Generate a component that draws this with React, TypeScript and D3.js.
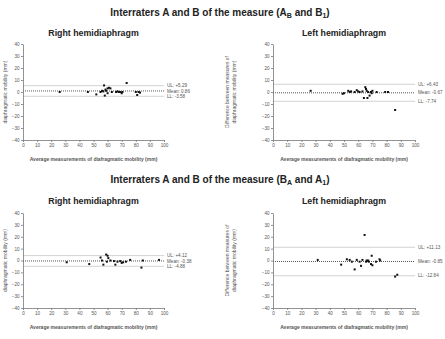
import React, { useEffect, useRef } from "react";
import * as d3 from "d3";

// tick values shared by all four panels
const xTicks = [0, 10, 20, 30, 40, 50, 60, 70, 80, 90, 100];
const yTicks = [40, 30, 20, 10, 0, -10, -20, -30, -40];

// Right hemidiaphragm, A_B and B_1
const rightAB_avg = [26, 46, 52, 55, 56, 57, 57.5, 58, 58.5, 59, 60, 61, 62, 60, 63, 66, 67, 68, 69, 70, 70.5, 73.5, 80, 81, 82, 83];
const rightAB_diff = [0, 0, -2, 0, 1, 0.5, 5.5, -3, 2, 1, 3, 3.5, 3, -1, 0, 0, 0.5, 0, 0, -1, 0, 7.5, 0, -2.5, 0, -0.5];
const rightAB_limits = [5.29, 0.86, -3.58];
const rightAB_labels = ["UL: +5.29", "Mean: 0.86", "LL: -3.58"];

// Left hemidiaphragm, A_B and B_1
const leftAB_avg = [26.5, 49, 50, 53, 54, 55, 57.5, 59, 60, 61, 63, 64, 65, 65.5, 66, 66.5, 67, 68, 69, 69.5, 70, 73, 79, 81, 86];
const leftAB_diff = [1, -1.5, -1, 1, 0, 0.5, 0, 1.5, 0.5, 0, 0.5, -5, 4, 2.5, 1, -5, 0, -3, 0, -1, 1, 0, 0, 0, -15];
const leftAB_limits = [6.43, -0.67, -7.74];
const leftAB_labels = ["UL: +6.43", "Mean: -0.67", "LL: -7.74"];

// Right hemidiaphragm, B_A and A_1
const rightBA_avg = [31, 47, 55, 56, 57, 59, 60, 60.5, 59.5, 62, 64.5, 65.5, 67, 69, 70, 71, 73, 76, 85, 84, 96.5];
const rightBA_diff = [-1.5, -3, 2.5, 0, -3.5, 5, 4, 2, -1, 0, -0.5, -3.5, -1, -0.5, -2, -1.5, -1, 0.5, 0, -6, 0.5];
const rightBA_limits = [4.12, -0.38, -4.88];
const rightBA_labels = ["UL: +4.12", "Mean: -0.38", "LL: -4.88"];

// Left hemidiaphragm, B_A and A_1
const leftBA_avg = [31.5, 48, 52, 54, 55.5, 57.5, 59, 61, 62, 63, 64.5, 65.5, 66, 67, 67.5, 69.5, 69, 70, 72.5, 75, 75.5, 86, 87.5];
const leftBA_diff = [0.5, -3.5, 1, 0.5, -1, -7.5, 0.5, -1, -4.5, 0.5, 21.5, -1, 0, 0, -1, 4, -3, -4, -1, 1, 0, -13.5, -12];
const leftBA_limits = [11.13, -0.85, -12.84];
const leftBA_labels = ["UL: +11.13", "Mean: -0.85", "LL: -12.84"];

const axisColor = "#777";
const font = "Liberation Sans, Arial, sans-serif";

interface PanelProps {
  avg: number[];
  diff: number[];
  limits: number[];
  labels: string[];
  left: number;
  right: number;
  top: number;
  bottom: number;
  title: string;
  titleY: number;
  twoLineY: boolean;
}

const Panel = ({ avg, diff, limits, labels, left, right, top, bottom, title, titleY, twoLineY }: PanelProps) => {
  const xRef = useRef<SVGGElement>(null);
  const yRef = useRef<SVGGElement>(null);

  const x = d3.scaleLinear().domain([0, 100]).range([left, right]);
  const y = d3.scaleLinear().domain([-40, 40]).range([bottom, top]);

  useEffect(() => {
    const styleAxis = (g) => {
      g.selectAll("path").attr("stroke", axisColor).attr("stroke-width", 0.8);
      g.selectAll("line").attr("stroke", axisColor).attr("stroke-width", 0.8);
      g.selectAll("text").attr("fill", "#555").attr("font-size", 4.6).attr("font-family", font);
    };
    d3.select(xRef.current)
      .call(d3.axisBottom(x).tickValues(xTicks).tickSize(2).tickPadding(1.5).tickSizeOuter(0))
      .call(styleAxis);
    d3.select(yRef.current)
      .call(d3.axisLeft(y).tickValues(yTicks).tickSize(2).tickPadding(1.5).tickSizeOuter(0))
      .call(styleAxis);
  }, []);

  const midY = (top + bottom) / 2;
  const midX = (left + right) / 2;

  return (
    <g>
      <text x={midX} y={titleY} textAnchor="middle" fontFamily={font} fontWeight="bold" fontSize={8.8} fill="#222">
        {title}
      </text>
      {/* limits of agreement */}
      {limits.map((v, i) => (
        <g key={i}>
          <line
            x1={x(0)}
            x2={x(100)}
            y1={y(v)}
            y2={y(v)}
            stroke={i === 1 ? "#444" : "#c8c8c8"}
            strokeWidth={i === 1 ? 0.9 : 0.8}
            strokeDasharray={i === 1 ? "1,1" : undefined}
          />
          <text x={x(100) + 3} y={y(v) + 1.6} fontFamily={font} fontSize={4.6} fill="#555">
            {labels[i]}
          </text>
        </g>
      ))}
      {avg.map((a, i) => (
        <rect key={i} x={x(a) - 1} y={y(diff[i]) - 1} width={2} height={2} fill="#111" />
      ))}
      <g ref={xRef} transform={`translate(0, ${bottom})`} />
      <g ref={yRef} transform={`translate(${left}, 0)`} />
      <text
        x={midX}
        y={bottom + 21}
        textAnchor="middle"
        fontFamily={font}
        fontWeight="bold"
        fontSize={5}
        fill="#555"
      >
        Average measurements of diafragmatic mobility (mm)
      </text>
      {twoLineY ? (
        <text
          transform={`translate(${left - 37}, ${midY}) rotate(-90)`}
          textAnchor="middle"
          fontFamily={font}
          fontSize={5}
          fill="#555"
        >
          <tspan x={0} dy={-7.5}>Difference between measures of</tspan>
          <tspan x={0} dy={7.5}>diaphragmatic mobility (mm)</tspan>
        </text>
      ) : (
        <text
          transform={`translate(${left - 16}, ${midY}) rotate(-90)`}
          textAnchor="middle"
          fontFamily={font}
          fontSize={5}
          fill="#555"
        >
          diaphragmatic mobility (mm)
        </text>
      )}
    </g>
  );
};

const Title = ({ y, a, aSub, b, bSub }) => (
  <text x={220} y={y} textAnchor="middle" fontFamily={font} fontWeight="bold" fontSize={10} fill="#222">
    {"Interraters A and B of the measure ("}
    {a}
    <tspan fontSize={7} dy={2}>{aSub}</tspan>
    <tspan dy={-2}>{` and ${b}`}</tspan>
    <tspan fontSize={7} dy={2}>{bSub}</tspan>
    <tspan dy={-2}>)</tspan>
  </text>
);

const App = () => {
  return (
    <svg width={445} height={339} style={{ position: "absolute", left: 0, top: 0, background: "#fff" }}>
      <Title y={16} a="A" aSub="B" b="B" bSub="1" />
      <Panel
        avg={rightAB_avg}
        diff={rightAB_diff}
        limits={rightAB_limits}
        labels={rightAB_labels}
        left={23}
        right={164}
        top={44}
        bottom={140}
        title="Right hemidiaphragm"
        titleY={36}
        twoLineY={false}
      />
      <Panel
        avg={leftAB_avg}
        diff={leftAB_diff}
        limits={leftAB_limits}
        labels={leftAB_labels}
        left={273}
        right={415}
        top={44}
        bottom={140}
        title="Left hemidiaphragm"
        titleY={36}
        twoLineY={true}
      />
      <Title y={183} a="B" aSub="A" b="A" bSub="1" />
      <Panel
        avg={rightBA_avg}
        diff={rightBA_diff}
        limits={rightBA_limits}
        labels={rightBA_labels}
        left={23}
        right={164}
        top={213}
        bottom={308}
        title="Right hemidiaphragm"
        titleY={204}
        twoLineY={false}
      />
      <Panel
        avg={leftBA_avg}
        diff={leftBA_diff}
        limits={leftBA_limits}
        labels={leftBA_labels}
        left={273}
        right={415}
        top={213}
        bottom={308}
        title="Left hemidiaphragm"
        titleY={204}
        twoLineY={true}
      />
    </svg>
  );
};

export default App;
